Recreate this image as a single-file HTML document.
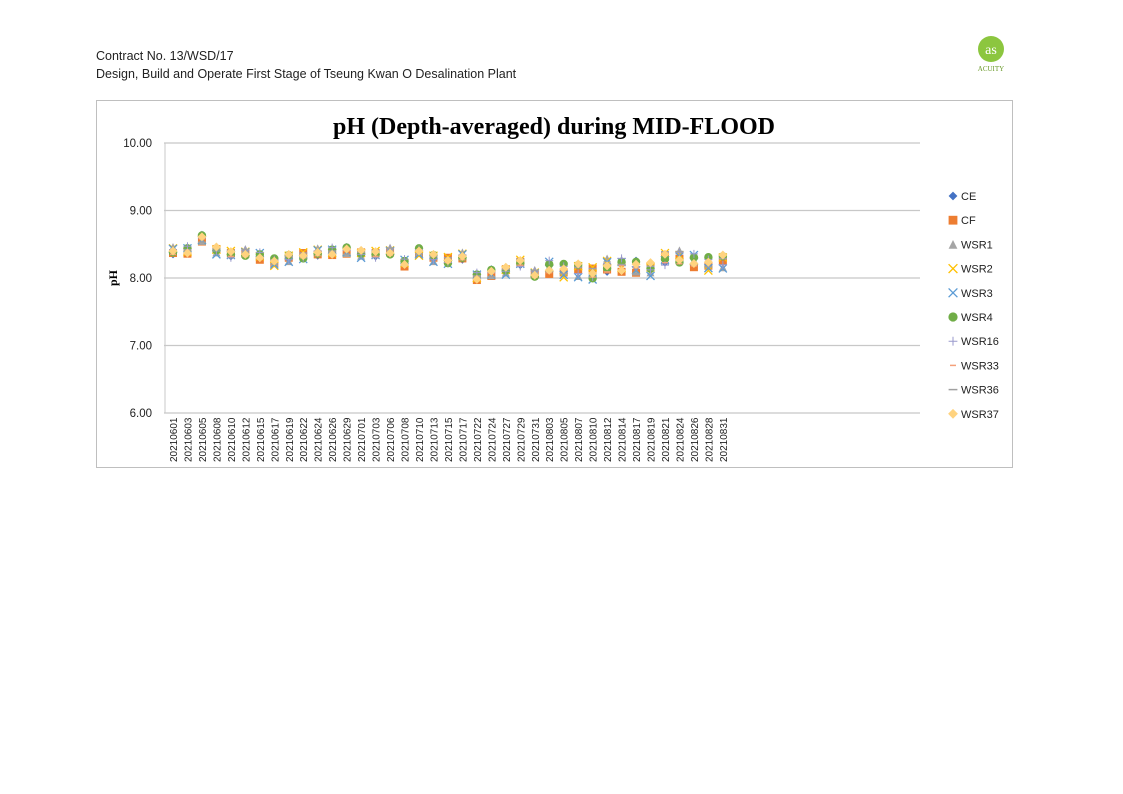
<!DOCTYPE html>
<html><head><meta charset="utf-8"><style>
body{margin:0;background:#fff;width:1123px;height:794px;position:relative;overflow:hidden;font-family:"Liberation Sans",sans-serif}
.h{position:absolute;left:96px;font-size:12.5px;color:#222}
</style></head><body>
<div class="h" style="top:49px">Contract No. 13/WSD/17</div>
<div class="h" style="top:67px">Design, Build and Operate First Stage of Tseung Kwan O Desalination Plant</div>
<svg style="position:absolute;left:0;top:0" width="1123" height="794" id="s">
<circle cx="991" cy="49" r="13" fill="#8cc63f"/>
<text x="991" y="54" font-size="14" fill="#fff" text-anchor="middle" font-family="Liberation Serif">as</text>
<text x="991" y="71" font-size="7" fill="#6a9a2a" text-anchor="middle" font-family="Liberation Serif">ACUITY</text>
<rect x="96.5" y="100.5" width="916" height="367" fill="none" stroke="#bfbfbf"/>
<text x="554" y="134" font-size="24" font-weight="bold" font-family="Liberation Serif" text-anchor="middle" fill="#000">pH (Depth-averaged) during MID-FLOOD</text>
<g id="g"></g>
</svg>
<script>
var g=document.getElementById('g'),h='';
var y0=143,y1=413;function Y(v){return y0+(10-v)*(y1-y0)/4;}
[10,9,8,7,6].forEach(function(v){var y=Y(v);h+='<line x1="164" x2="920" y1="'+y+'" y2="'+y+'" stroke="#c8c8c8" stroke-width="1.2"/>';
h+='<text x="152" y="'+(y+4)+'" font-size="11.5" text-anchor="end" fill="#222">'+v.toFixed(2)+'</text>';});
h+='<line x1="165" x2="165" y1="'+y0+'" y2="'+y1+'" stroke="#c8c8c8"/>';
h+='<text x="117" y="278" font-size="12" font-weight="bold" font-family="Liberation Serif" transform="rotate(-90 117 278)" text-anchor="middle">pH</text>';
var d="0601 0603 0605 0608 0610 0612 0615 0617 0619 0622 0624 0626 0629 0701 0703 0706 0708 0710 0713 0715 0717 0722 0724 0727 0729 0731 0803 0805 0807 0810 0812 0814 0817 0819 0821 0824 0826 0828 0831".split(' ');
var m=[8.40,8.42,8.58,8.40,8.35,8.38,8.32,8.23,8.30,8.32,8.38,8.40,8.40,8.35,8.35,8.40,8.22,8.38,8.30,8.25,8.32,8.03,8.07,8.10,8.22,8.07,8.15,8.10,8.12,8.05,8.18,8.20,8.15,8.12,8.28,8.32,8.25,8.20,8.25];
var col=['#4472c4','#ed7d31','#a5a5a5','#ffc000','#5b9bd5','#70ad47','#9999cc','#f4a07a','#a0a0a0','#ffd37f'];
function mk(t,x,y,k){k=k||1;var c=col[t],a=4*k;switch(t){
case 0:return '<path d="M'+x+' '+(y-a)+'l'+a+' '+a+'-'+a+' '+a+'-'+a+'-'+a+'z" fill="'+c+'"/>';
case 1:return '<rect x="'+(x-a)+'" y="'+(y-a)+'" width="'+2*a+'" height="'+2*a+'" fill="'+c+'"/>';
case 2:return '<path d="M'+x+' '+(y-a)+'l'+a+' '+2*a+'h-'+2*a+'z" fill="'+c+'"/>';
case 3:case 4:return '<path d="M'+(x-a)+' '+(y-a)+'l'+2*a+' '+2*a+'M'+(x+a)+' '+(y-a)+'l-'+2*a+' '+2*a+'" stroke="'+c+'" stroke-width="1.3"/>';
case 5:return '<circle cx="'+x+'" cy="'+y+'" r="'+(4.2*k)+'" fill="'+c+'"/>';
case 6:return '<path d="M'+(x-a)+' '+y+'h'+2*a+'M'+x+' '+(y-a)+'v'+2*a+'" stroke="'+c+'"/>';
case 7:return '<path d="M'+(x-3)+' '+y+'h6" stroke="'+c+'" stroke-width="1.5"/>';
case 8:return '<path d="M'+(x-a)+' '+y+'h'+2*a+'" stroke="'+c+'" stroke-width="1.5"/>';
case 9:return '<path d="M'+x+' '+(y-a-.5)+'l'+(a+.5)+' '+(a+.5)+'-'+(a+.5)+' '+(a+.5)+'-'+(a+.5)+'-'+(a+.5)+'z" fill="'+c+'"/>';}}
var off=[-0.05,0.03,0.06,0.04,-0.03,-0.02,0.02,0.05,0.01,0];
d.forEach(function(s,i){var x=173+i*14.47;
var mo=s.slice(0,2)=='08'?1.8:1;
for(var t=0;t<10;t++){var o=off[(t+i)%10]*mo*(t%3==1?-1:1);h+=mk(t,x,Y(m[i]+o));}
h+='<text x="'+(x+4)+'" y="462" font-size="10" transform="rotate(-90 '+(x+4)+' 462)" fill="#222">2021'+s+'</text>';});
var L=['CE','CF','WSR1','WSR2','WSR3','WSR4','WSR16','WSR33','WSR36','WSR37'];
L.forEach(function(n,i){var y=196+i*24.2;h+=mk(i,953,y,1.1);h+='<text x="961" y="'+(y+4)+'" font-size="11" fill="#222">'+n+'</text>';});
g.innerHTML=h;
</script>
</body></html>
